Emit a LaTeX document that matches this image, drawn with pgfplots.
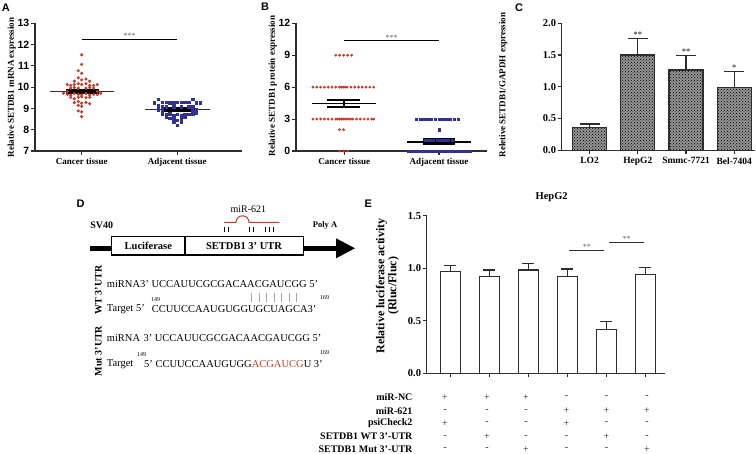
\documentclass[border=0pt]{standalone}
\usepackage{pgfplots}
\pgfplotsset{compat=1.18}
\usetikzlibrary{patterns}
\usepackage{fontspec}
\setmainfont{Liberation Serif}
\setsansfont{Liberation Sans}
\definecolor{redpt}{RGB}{196,58,42}
\definecolor{bluept}{RGB}{48,48,150}
\definecolor{axgray}{RGB}{45,45,45}
\newcommand{\fs}[1]{\fontsize{#1}{#1}\selectfont}
\pgfplotsset{
  panel/.style={scale only axis, clip=false, anchor=south west,
    axis x line*=bottom, axis y line*=left,
    axis line style={line width=1.3pt, axgray},
    tick align=outside, major tick length=4pt,
    tick style={line width=1.1pt, axgray},
    /pgf/number format/assume math mode=true,
    xticklabel style={font=\bfseries\fs{9}, inner sep=1pt, yshift=-2pt},
    yticklabel style={inner sep=1.5pt},
  },
  ebar/.style={error bars/.cd, y dir=plus, y explicit,
    error bar style={line width=1.2pt, axgray},
    error mark options={rotate=90, mark size=#1, line width=1.2pt, axgray}},
}
\begin{document}
\begin{tikzpicture}
\useasboundingbox (0,0) rectangle (756pt,454pt);

% ---------------- Panel A ----------------
\begin{axis}[panel, at={(35pt,303pt)}, width=207pt, height=127.7pt,
  xmin=0.512, xmax=2.677, ymin=7, ymax=13,
  xtick={1,2}, xticklabels={Cancer tissue,Adjacent tissue},
  ytick={7,8,9,10,11,12,13}, yticklabels={7,8,9,10,11,12,13},
  yticklabel style={font=\sffamily\bfseries\fs{10.5}}]
\addplot[only marks, mark=*, mark size=1.4pt, redpt] coordinates {
(1.0,11.52) (1.0,11.07) (0.965,10.77) (1.0,10.65) (0.965,10.44) (0.923,10.28) (1.0,10.34) (1.045,10.38) (1.084,10.28)
(0.85,10.12) (0.885,10.08) (0.923,10.12) (0.965,10.16) (1.0,10.12) (1.045,10.16) (1.084,10.08) (1.125,10.08) (1.164,10.12)
(0.885,9.95) (0.923,9.98) (0.965,9.95) (1.045,9.95) (1.084,9.98) (1.125,9.95)
(0.85,9.8) (1.164,9.8)
(0.81,9.72) (0.85,9.66) (0.885,9.62) (0.923,9.7) (0.965,9.66) (1.0,9.64) (1.045,9.7) (1.084,9.63) (1.125,9.66) (1.164,9.65) (1.2,9.72)
(0.885,9.52) (0.923,9.45) (0.965,9.52) (1.0,9.55) (1.045,9.5) (1.084,9.52)
(0.923,9.27) (0.965,9.32) (1.0,9.25) (1.045,9.28) (1.084,9.22)
(0.965,9.14) (1.0,9.1) (0.965,8.88) (1.0,8.84) (1.0,8.61)};
\addplot[only marks, mark=square*, mark size=1.3pt, bluept] coordinates {
(1.8,9.43) (2.16,9.43)
(1.76,9.28) (1.843,9.3) (1.885,9.3) (1.923,9.28) (1.962,9.28) (2.0,9.3) (2.042,9.3) (2.08,9.3) (2.122,9.3) (2.2,9.26) (2.24,9.28)
(1.8,9.12) (1.843,9.09) (1.885,9.09) (1.962,9.09) (2.042,9.09) (2.122,9.09) (2.16,9.09)
(1.8,8.95) (2.2,8.95) (1.843,8.92) (2.16,8.92)
(1.843,8.76) (1.885,8.72) (1.923,8.76) (1.962,8.66) (2.0,8.72) (2.042,8.66) (2.08,8.72) (2.122,8.72) (2.16,8.76) (2.2,8.8)
(1.885,8.6) (1.923,8.55) (1.962,8.47) (2.0,8.45) (2.042,8.55) (2.08,8.6)
(1.962,8.38) (2.042,8.38) (2.0,8.22)};
\addplot[axgray, line width=1.3pt] coordinates {(0.67,9.8) (1.34,9.8)};
\addplot[black, line width=5.3pt] coordinates {(0.833,9.805) (1.18,9.805)};
\addplot[axgray, line width=1.3pt] coordinates {(1.66,8.94) (2.34,8.94)};
\addplot[black, line width=4.9pt] coordinates {(1.83,8.935) (2.18,8.935)};
\addplot[black, line width=0.9pt] coordinates {(1,12.25) (2,12.25)};
\node[anchor=south, inner sep=0.5pt, font=\fs{8}, text=gray!75!black] at (axis cs:1.5,12.25) {***};
\end{axis}

% ---------------- Panel B ----------------
\begin{axis}[panel, at={(296pt,303pt)}, width=190.7pt, height=127.7pt,
  xmin=0.49, xmax=2.504, ymin=0, ymax=12,
  xtick={1,2}, xticklabels={Cancer tissue,Adjacent tissue},
  ytick={0,3,6,9,12}, yticklabels={0,3,6,9,12},
  yticklabel style={font=\sffamily\bfseries\fs{10.5}}]
\addplot[only marks, mark=*, mark size=1.2pt, redpt] coordinates {
(0.91,9) (0.95,9) (0.993,9) (1.035,9) (1.077,9)
(0.67,6) (0.71,6) (0.75,6) (0.79,6) (0.83,6) (0.87,6) (0.91,6) (0.95,6) (0.97,6) (0.99,6) (1.01,6) (1.03,6) (1.07,6) (1.11,6) (1.15,6) (1.19,6) (1.23,6) (1.27,6) (1.31,6)
(0.67,3) (0.71,3) (0.75,3) (0.79,3) (0.83,3) (0.87,3) (0.91,3) (0.93,3) (0.95,3) (0.97,3) (0.99,3) (1.01,3) (1.03,3) (1.05,3) (1.07,3) (1.09,3) (1.13,3) (1.17,3) (1.21,3) (1.25,3) (1.29,3) (1.31,3)
(0.95,2) (0.993,2)
(0.95,0) (0.993,0) (1.035,0)};
\addplot[black, line width=4.5pt] coordinates {(1.83,0.88) (2.17,0.88)};
\addplot[only marks, mark=square*, mark size=1.2pt, bluept] coordinates {
(1.76,3) (1.8,3) (1.84,3) (1.88,3) (1.92,3) (1.96,3) (2.0,3) (2.04,3) (2.08,3) (2.12,3) (2.16,3) (2.2,3)
(2.0,2)
(1.86,1) (1.9,1) (1.94,1) (1.98,1) (2.02,1) (2.06,1) (2.1,1) (2.14,1)
(1.68,0) (1.71,0) (1.74,0) (1.77,0) (1.8,0) (1.83,0) (1.86,0) (1.89,0) (1.92,0) (1.95,0) (1.98,0) (2.01,0) (2.04,0) (2.07,0) (2.1,0) (2.13,0) (2.16,0) (2.19,0) (2.22,0) (2.25,0) (2.28,0) (2.31,0) (2.33,0)};
\addplot[black, line width=1.6pt] coordinates {(0.655,4.48) (1.335,4.48)};
\addplot[black, line width=1.8pt] coordinates {(0.82,4.79) (1.165,4.79)};
\addplot[black, line width=1.8pt] coordinates {(0.82,4.13) (1.165,4.13)};
\addplot[black, line width=1.6pt] coordinates {(1,4.13) (1,4.79)};
\addplot[black, line width=1.6pt] coordinates {(1.66,0.87) (2.34,0.87)};
\addplot[black, line width=1.6pt] coordinates {(1.83,1.13) (2.17,1.13)};
\addplot[black, line width=1.6pt] coordinates {(1.83,0.63) (2.17,0.63)};
\addplot[black, line width=0.9pt] coordinates {(1,10.36) (2,10.36)};
\node[anchor=south, inner sep=0.5pt, font=\fs{8}, text=gray!75!black] at (axis cs:1.5,10.36) {***};
\end{axis}

% ---------------- Panel C ----------------
\begin{axis}[panel, at={(561.7pt,303.7pt)}, width=193.3pt, height=127pt,
  xmin=-0.577, xmax=3.43, ymin=0, ymax=2,
  xtick={0,1,2,3}, xticklabels={LO2,HepG2,Smmc-7721,Bel-7404},
  xticklabel style={font=\bfseries\fs{9.5}},
  ytick={0,0.5,1,1.5,2}, yticklabels={0.0,0.5,1.0,1.5,2.0},
  yticklabel style={font=\bfseries\fs{10.5}}]
\addplot[ybar, bar width=34pt, draw=axgray, line width=1.2pt, fill=gray!85,
  postaction={pattern=crosshatch dots, pattern color=black}, ebar=10pt]
  coordinates {(0,0.356) +- (0,0.058) (1,1.50) +- (0,0.26) (2,1.264) +- (0,0.232) (3,0.99) +- (0,0.254)};
\node[anchor=south, inner sep=0.5pt, font=\bfseries\fs{8.5}, text=gray!60!black] at (axis cs:1,1.76) {**};
\node[anchor=south, inner sep=0.5pt, font=\bfseries\fs{8.5}, text=gray!60!black] at (axis cs:2,1.496) {**};
\node[anchor=south, inner sep=0.5pt, font=\bfseries\fs{8.5}, text=gray!60!black] at (axis cs:3,1.244) {*};
\end{axis}

% ---------------- Panel E ----------------
\begin{axis}[panel, at={(426.7pt,80.8pt)}, width=238.3pt, height=157.5pt,
  xmin=0.4, xmax=6.5, ymin=0, ymax=1.5,
  xtick={1,2,3,4,5,6}, xticklabels={},
  ytick={0,0.5,1,1.5}, yticklabels={0.0,0.5,1.0,1.5},
  yticklabel style={font=\bfseries\fs{10.5}}]
\addplot[ybar, bar width=20pt, draw=axgray, fill=white, line width=1.2pt, ebar=6pt]
  coordinates {(1,0.97) +- (0,0.057) (2,0.923) +- (0,0.06) (3,0.983) +- (0,0.06)
               (4,0.923) +- (0,0.069) (5,0.418) +- (0,0.072) (6,0.938) +- (0,0.07)};
\addplot[axgray, line width=1pt] coordinates {(4.05,1.17) (4.95,1.17)};
\addplot[axgray, line width=1pt] coordinates {(5.07,1.243) (5.97,1.243)};
\node[anchor=south, inner sep=0.5pt, font=\fs{8}, text=gray!75!black] at (axis cs:4.5,1.17) {**};
\node[anchor=south, inner sep=0.5pt, font=\fs{8}, text=gray!75!black] at (axis cs:5.52,1.243) {**};
\end{axis}

% ---------------- labels ----------------
\begin{scope}[font=\sffamily\bfseries\fs{11}]
\node at (5.8pt,446.2pt) {A};
\node at (265pt,446.8pt) {B};
\node at (519pt,446.2pt) {C};
\node at (80.5pt,250.7pt) {D};
\node at (368.3pt,249.8pt) {E};
\end{scope}
\node[rotate=90, font=\bfseries\fs{9}] at (11.7pt,366.5pt) {Relative SETDB1 mRNA expression};
\node[rotate=90, font=\bfseries\fs{9}] at (272.7pt,368.2pt) {Relative SETDB1 protein expression};
\node[rotate=90, font=\bfseries\fs{9}] at (503.3pt,369pt) {Reletive SETDB1/GAPDH expression};
\node[rotate=90, font=\bfseries\fs{12}, align=center] at (387.5pt,168pt) {Relative luciferase activity\\(Rluc/Fluc)};
\node[font=\bfseries\fs{10.5}] at (551.7pt,257.3pt) {HepG2};

% table under E
\begin{scope}[font=\bfseries\fs{10}]
\node[anchor=east] at (416pt,56.7pt) {miR-NC};
\node[anchor=east] at (416pt,43.3pt) {miR-621};
\node[anchor=east] at (416pt,30.7pt) {psiCheck2};
\node[anchor=east] at (416pt,17.3pt) {SETDB1 WT 3’-UTR};
\node[anchor=east] at (416pt,4.7pt) {SETDB1 Mut 3’-UTR};
\end{scope}
\begin{scope}[font=\fs{10}, text=black!85]
\foreach \x/\a/\b/\c/\d/\e in {445/+/-/+/-/-, 487/+/-/-/+/-, 526/+/-/-/-/+, 566.5/-/+/+/-/-, 606.5/-/+/-/+/-, 647/-/+/-/-/+}{
  \node at (\x pt,56.7pt) {\a};
  \node at (\x pt,43.3pt) {\b};
  \node at (\x pt,30.7pt) {\c};
  \node at (\x pt,17.3pt) {\d};
  \node at (\x pt,4.7pt) {\e};
}
\end{scope}

% ---------------- Panel D schematic ----------------
\draw[line width=4.5pt] (90pt,205.7pt) -- (112pt,205.7pt);
\draw[line width=4.5pt] (303pt,205.7pt) -- (338pt,205.7pt);
\fill (336pt,215.7pt) -- (355pt,205.7pt) -- (336pt,195.7pt) -- cycle;
\draw[line width=1.3pt, fill=white] (111.7pt,199pt) rectangle (303.3pt,217.3pt);
\draw[line width=1.3pt] (185pt,199pt) -- (185pt,217.3pt);
\node[font=\bfseries\fs{10.5}] at (148.3pt,208.3pt) {Luciferase};
\node[font=\bfseries\fs{10.5}] at (244pt,208.3pt) {SETDB1 3’ UTR};
\node[font=\bfseries\fs{10}] at (101.7pt,228.3pt) {SV40};
\node[font=\bfseries\fs{8.5}] at (325pt,229pt) {Poly A};
\node[font=\fs{10}] at (248.3pt,245pt) {miR-621};
\draw[redpt, line width=1pt] (224pt,231.7pt) -- (236pt,231.7pt) arc (180:0:6.5pt) -- (279.3pt,231.7pt);
\foreach \x in {224.5,228.5,249.5,253.5,265,269.3,273.7}{
  \draw[line width=0.8pt] (\x pt,222.3pt) -- (\x pt,227.3pt);
}
\node[rotate=90, font=\bfseries\fs{10}] at (98.3pt,164pt) {WT 3’UTR};
\node[rotate=90, font=\bfseries\fs{10}] at (98.3pt,103pt) {Mut 3’UTR};
\begin{scope}[font=\fs{10.5}, inner sep=0pt]
\node[anchor=west] at (106.7pt,170pt) {miRNA3’ UCCAUUCGCGACAACGAUCGG 5’};
\node[anchor=west] at (106.7pt,145pt) {Target 5’};
\node[anchor=west] at (151.7pt,145pt) {CCUUCCAAUGUGGUGCUAGCA3’};
\node[anchor=west] at (106.7pt,115.7pt) {miRNA};
\node[anchor=west] at (143.3pt,115.7pt) {3’ UCCAUUCGCGACAACGAUCGG 5’};
\node[anchor=west] at (106.7pt,90pt) {Target};
\node[anchor=west] at (144pt,90pt) {5’ CCUUCCAAUGUGG\textcolor{redpt}{ACGAUCG}U 3’};
\end{scope}
\begin{scope}[font=\fs{6}, inner sep=0pt]
\node[anchor=west] at (151pt,154pt) {149};
\node[anchor=west] at (320pt,156.7pt) {169};
\node[anchor=west] at (137pt,99pt) {149};
\node[anchor=west] at (320pt,101pt) {169};
\end{scope}
\foreach \x in {251.7,259.3,266.7,274,281.7,289,296.7}{
  \draw[gray!70, line width=0.6pt] (\x pt,152.3pt) -- (\x pt,161pt);
}
\end{tikzpicture}
\end{document}
